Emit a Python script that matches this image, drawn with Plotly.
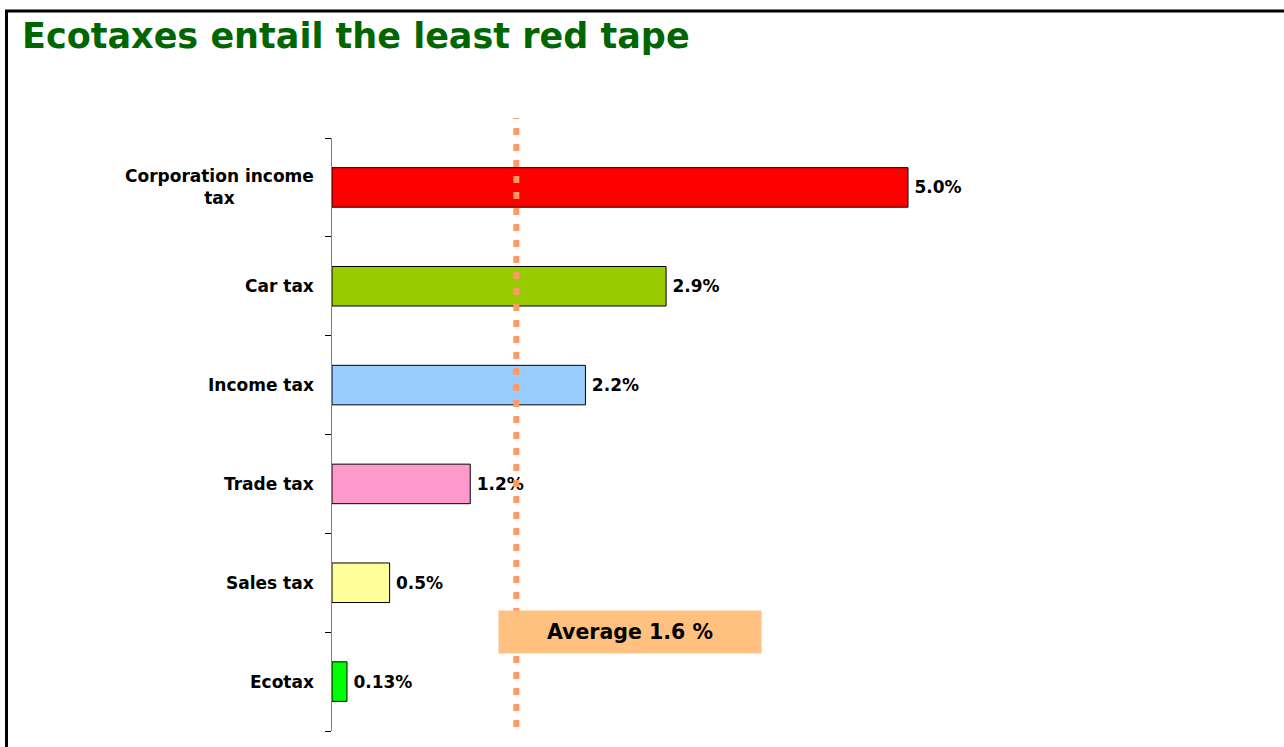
import plotly.graph_objects as go

# Administrative cost of collecting each tax, bottom to top
categories = ["Ecotax", "Sales tax", "Trade tax", "Income tax", "Car tax", "Corporation income<br>tax"]
values = [0.13, 0.5, 1.2, 2.2, 2.9, 5.0]
value_labels = ["0.13%", "0.5%", "1.2%", "2.2%", "2.9%", "5.0%"]
bar_colors = ["#00FF00", "#FFFF99", "#FF99CC", "#99CCFF", "#99CC00", "#FF0000"]
average = 1.6
average_label = "Average 1.6 %"
title_text = "Ecotaxes entail the least red tape"

W, H = 1284, 747
FONT = "DejaVu Sans, Verdana, sans-serif"

# plot area in pixels
px_left, px_right = 332, 1200
px_top, px_bottom = 138, 731
x_max = (px_right - px_left) / 115.2

fig = go.Figure()
fig.add_trace(go.Bar(
    y=list(range(len(categories))),
    x=values,
    orientation="h",
    width=0.4,
    marker=dict(color=bar_colors, line=dict(color="#000000", width=1)),
    text=value_labels,
    texttemplate="\u2009%{text}",
    textposition="outside",
    textfont=dict(family=FONT, size=17, color="#000000", weight="bold"),
    cliponaxis=False,
    hoverinfo="skip",
))

annotations = []
for i, c in enumerate(categories):
    annotations.append(dict(
        xref="paper", yref="y", x=316 / W, y=i,
        text="<b>" + c + "</b>", showarrow=False,
        xanchor="right", yanchor="middle", align="center",
        font=dict(family=FONT, size=17, color="#000000"),
    ))

# average marker box
annotations.append(dict(
    xref="x", yref="y", x=average, y=0.5,
    xshift=-18, xanchor="left", yanchor="middle",
    text="<b>" + average_label + "</b>", showarrow=False,
    width=260, height=40, bgcolor="#FFC080",
    font=dict(family=FONT, size=20.5, color="#000000"),
    align="center", valign="middle",
))

# title
annotations.append(dict(
    xref="paper", yref="paper", x=20 / W, y=1 - 14 / H,
    xanchor="left", yanchor="top",
    text="<b>" + title_text + "</b>", showarrow=False,
    font=dict(family=FONT, size=35, color="#006600"),
))

shapes = [
    # average line
    dict(type="line", xref="x", yref="paper", x0=average, x1=average,
         y0=1 - 727 / H, y1=1 - 118 / H, layer="above",
         line=dict(color="#FF9966", width=6, dash="7px,9px")),
    # frame
    dict(type="rect", xref="paper", yref="paper",
         x0=6.5 / W, x1=1300 / W, y0=-0.1, y1=1 - 11 / H,
         line=dict(color="#000000", width=3), layer="above"),
]

fig.update_layout(
    width=W, height=H,
    margin=dict(l=0, r=0, t=0, b=0, autoexpand=False),
    paper_bgcolor="#FFFFFF", plot_bgcolor="#FFFFFF",
    showlegend=False,
    xaxis=dict(domain=[px_left / W, px_right / W], range=[0, x_max],
               visible=False, fixedrange=True),
    yaxis=dict(domain=[1 - px_bottom / H, 1 - px_top / H],
               range=[-0.5, 5.5], tickmode="array",
               tickvals=[i - 0.5 for i in range(len(categories) + 1)],
               ticktext=[""] * (len(categories) + 1),
               ticks="outside", ticklen=6, tickcolor="#000000", tickwidth=1,
               showline=True, linecolor="#808080", linewidth=1,
               showgrid=False, zeroline=False, showticklabels=False,
               fixedrange=True),
    annotations=annotations,
    shapes=shapes,
)

fig.write_html("out.html")
